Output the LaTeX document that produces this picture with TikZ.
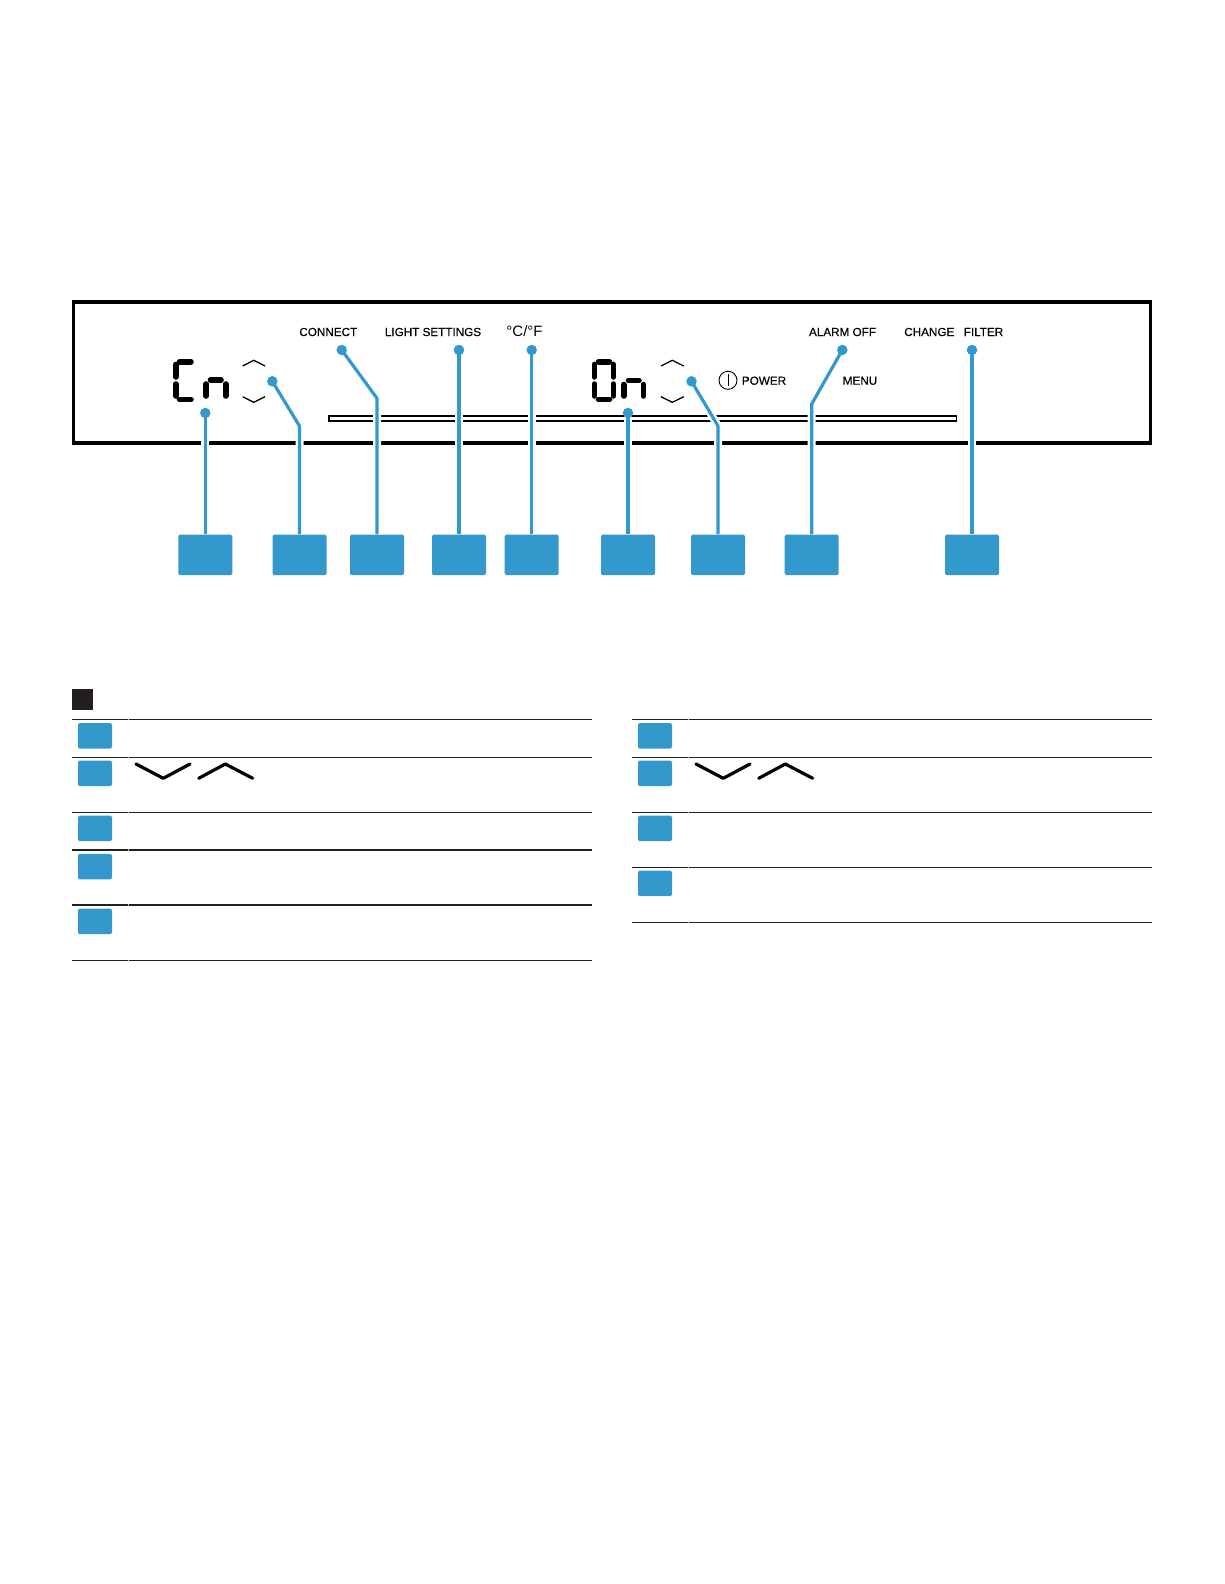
\documentclass[tikz,border=0pt]{standalone}
\usepackage{fontspec}
\setmainfont{Liberation Sans}
\newfontfamily\panelfont[FakeBold=0.35]{Liberation Sans}
\definecolor{calloutblue}{HTML}{3398CC}
\definecolor{legendblack}{HTML}{231F20}
\tikzset{
  panellabel/.style={inner sep=0pt, text=black, font=\panelfont\fontsize{11.7}{13}\selectfont},
  unitlabel/.style={inner sep=0pt, text=black, font=\fontsize{15}{17}\selectfont},
  calloutbox/.style={fill=calloutblue, rounded corners=1.5pt, minimum width=54pt, minimum height=40.5pt, inner sep=0pt},
  legendbox/.style={fill=calloutblue, rounded corners=1.5pt, minimum width=34pt, minimum height=25.5pt, inner sep=0pt},
  calloutdot/.style={circle, fill=calloutblue, minimum size=10.5pt, inner sep=0pt},
  leader/.style={calloutblue, line width=3.2pt, line join=round, preaction={draw, white, line width=8pt}},
  digitseg/.style={black, line width=5.6pt, line cap=round},
  chevron/.style={black, line width=1.3pt},
  bigchevron/.style={black, line width=3.2pt, line cap=round, line join=round},
  thinrule/.style={legendblack, line width=1.1pt},
  thickrule/.style={legendblack, line width=2.2pt},
}
\begin{document}
\begin{tikzpicture}[x=1pt,y=-1pt]
\useasboundingbox (0,0) rectangle (1224,1584);

% panel
\draw [black, line width=3.6pt](73.3,301.7) rectangle (1150.5,442.7);
\draw [black, line width=1.9pt](329.3,415.7) rectangle (956.5,421);

% left display
\draw [digitseg](179.5,361.7) -- (191,361.7);
\draw [digitseg](175.7,364.5) -- (175.7,377);
\draw [digitseg](175.7,384) -- (175.7,396);
\draw [digitseg](179.5,399.3) -- (191,399.3);
\draw [digitseg](210.5,380) -- (221,380);
\draw [digitseg](206,384) -- (206,396);
\draw [digitseg](225.7,384) -- (225.7,396);
\draw [chevron](242.7,366) -- (253.7,360.3) -- (265,366);
\draw [chevron](242.7,396.7) -- (253.7,402.3) -- (265,396.7);

% right display
\draw [digitseg](598.5,361.7) -- (609.5,361.7);
\draw [digitseg](594.3,364.5) -- (594.3,377);
\draw [digitseg](594.3,384) -- (594.3,396);
\draw [digitseg](613.3,364.5) -- (613.3,377);
\draw [digitseg](613.3,384) -- (613.3,396);
\draw [digitseg](598.5,399.3) -- (609.5,399.3);
\draw [digitseg](628.5,380.5) -- (639,380.5);
\draw [digitseg](623.7,384.5) -- (623.7,396);
\draw [digitseg](643.3,384.5) -- (643.3,396);
\draw [chevron](661,366) -- (672.3,360.3) -- (683.8,366);
\draw [chevron](661,396.7) -- (672.3,402.3) -- (683.8,396.7);

% labels
\node [panellabel] (lblconnect) at (328.3,332){CONNECT};
\node [panellabel] (lbllight) at (433,332){LIGHT SETTINGS};
\node [unitlabel] (lblunit) at (524.5,331){°C/°F};
\node [panellabel] (lblalarm) at (842.5,332){ALARM OFF};
\node [panellabel] (lblchange) at (929.3,332){CHANGE};
\node [panellabel] (lblfilter) at (983.5,332){FILTER};
\node [panellabel] (lblpower) at (764,380.7){POWER};
\node [panellabel] (lblmenu) at (860,380.7){MENU};
\node [circle, draw=black, line width=0.9pt, minimum size=18pt, inner sep=0pt] (powersym) at (728,380.3){};
\draw [black, line width=0.9pt](powersym.center) ++(0,-6) -- ++(0,12);

% callout boxes
\node [calloutbox] (box1) at (205.3,554.8){};
\node [calloutbox] (box2) at (299.5,554.8){};
\node [calloutbox] (box3) at (377,554.8){};
\node [calloutbox] (box4) at (459,554.8){};
\node [calloutbox] (box5) at (531.7,554.8){};
\node [calloutbox] (box6) at (628,554.8){};
\node [calloutbox] (box7) at (718,554.8){};
\node [calloutbox] (box8) at (811.7,554.8){};
\node [calloutbox] (box9) at (972,554.8){};

\coordinate (tip1) at (205.3,413);
\coordinate (tip2) at (272.3,381.3);
\coordinate (bend2) at (299.5,426);
\coordinate (tip3) at (341.7,350);
\coordinate (bend3) at (377,398.3);
\coordinate (tip4) at (459,350);
\coordinate (tip5) at (531.7,350);
\coordinate (tip6) at (628,413);
\coordinate (tip7) at (691.5,381.3);
\coordinate (bend7) at (718,426);
\coordinate (tip8) at (842.3,350);
\coordinate (bend8) at (811.7,404);
\coordinate (tip9) at (972,350);

\draw [leader](box1.north) -- (tip1);
\draw [leader](box2.north) -- (bend2) -- (tip2);
\draw [leader](box3.north) -- (bend3) -- (tip3);
\draw [leader](box4.north) -- (tip4);
\draw [leader](box5.north) -- (tip5);
\draw [leader](box6.north) -- (tip6);
\draw [leader](box7.north) -- (bend7) -- (tip7);
\draw [leader](box8.north) -- (bend8) -- (tip8);
\draw [leader](box9.north) -- (tip9);

\node [calloutdot] (dot1) at (tip1){};
\node [calloutdot] (dot2) at (tip2){};
\node [calloutdot] (dot3) at (tip3){};
\node [calloutdot] (dot4) at (tip4){};
\node [calloutdot] (dot5) at (tip5){};
\node [calloutdot] (dot6) at (tip6){};
\node [calloutdot] (dot7) at (tip7){};
\node [calloutdot] (dot8) at (tip8){};
\node [calloutdot] (dot9) at (tip9){};

% legend, left column
\node [fill=legendblack, minimum size=21pt, inner sep=0pt] (legendhead) at (82.5,699.5){};
\draw [thinrule](72,719.3) -- (591.7,719.3);
\draw [thinrule](72,757.3) -- (591.7,757.3);
\draw [thinrule](72,812.3) -- (591.7,812.3);
\draw [thickrule](72,850) -- (591.7,850);
\draw [thickrule](72,905) -- (591.7,905);
\draw [thinrule](72,960.3) -- (591.7,960.3);
\draw [white, opacity=0.7, line width=1pt](128.3,717) -- (128.3,962);
\node [legendbox] (keyA) at (95,735.8){};
\node [legendbox] (keyB) at (95,773.3){};
\node [legendbox] (keyC) at (95,828.3){};
\node [legendbox] (keyD) at (95,866.7){};
\node [legendbox] (keyE) at (95,921.3){};
\draw [bigchevron](136,764) -- (163.3,778.3) -- (190,764);
\draw [bigchevron](198.7,778.3) -- (225.3,764) -- (252.7,778.3);

% legend, right column
\draw [thinrule](632,719.3) -- (1151.7,719.3);
\draw [thinrule](632,757.3) -- (1151.7,757.3);
\draw [thinrule](632,812.3) -- (1151.7,812.3);
\draw [thinrule](632,867.3) -- (1151.7,867.3);
\draw [thinrule](632,922.3) -- (1151.7,922.3);
\draw [white, opacity=0.7, line width=1pt](688.3,717) -- (688.3,924);
\node [legendbox] (keyF) at (655,735.8){};
\node [legendbox] (keyG) at (655,773.3){};
\node [legendbox] (keyH) at (655,828.3){};
\node [legendbox] (keyI) at (655,883.3){};
\draw [bigchevron](696,764) -- (723.3,778.3) -- (750,764);
\draw [bigchevron](758.7,778.3) -- (785.3,764) -- (812.7,778.3);
\end{tikzpicture}
\end{document}
